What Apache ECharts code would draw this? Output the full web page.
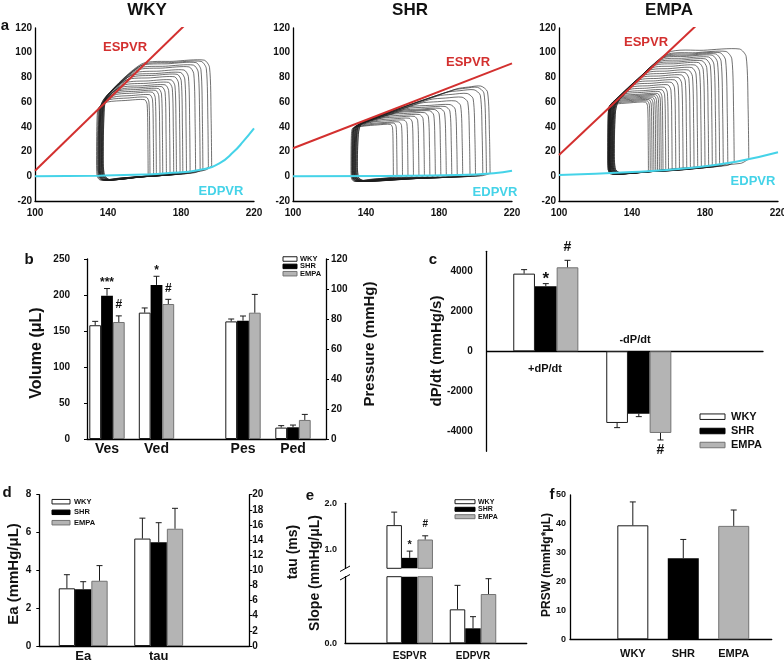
<!DOCTYPE html>
<html>
<head>
<meta charset="utf-8">
<title>LV hemodynamics</title>
<script src="https://cdn.jsdelivr.net/npm/echarts@6/dist/echarts.min.js"></script>
<style>
  html, body { margin: 0; background: #fff; }
  #chart { width: 784px; height: 665px; }
</style>
</head>
<body>
<div id="chart"></div>
<script>
const FONT = '"Liberation Sans", Arial, sans-serif'
const INK = '#111'

const groups = ['WKY', 'SHR', 'EMPA']
const groupFill = ['#ffffff', '#000000', '#b4b4b4']
const groupLine = ['#1a1a1a', '#000000', '#737373']

// a: pressure-volume loops (uL / mmHg)
const pvTitles = ['WKY', 'SHR', 'EMPA']
const pvVolTicks = [100, 140, 180, 220]
const wkyEspvr = [[100, 4.5], [181.6, 121.6]]
const shrEspvr = [[100, 22.7], [220, 91.4]]
const empaEspvr = [[100, 17.2], [174.9, 121.6]]
const wkyEdpvr = [[100, 0], [135, 0.5], [160, 1.4], [172, 2.4], [190, 5.1], [201, 10.5], [209, 20], [214, 28], [220, 38.8]]
const shrEdpvr = [[100, 0], [150, 0.3], [190, 1], [210, 2.5], [220, 4.5]]
const empaEdpvr = [[100, 1], [140, 3.5], [170, 6.5], [197, 11.8], [220, 19.4]]
// each loop: end-diastolic volume, peak pressure, end-systolic volume, end-systolic pressure
const wkyEdv = [196.8, 195, 192, 190.5, 188, 185, 183, 181, 179.5, 177.5, 176, 174, 172, 170, 168.5, 166.5, 165, 163, 162]
const wkyPmax = [94, 93, 92, 90, 88.5, 86, 84, 82.5, 80.5, 78, 76, 74, 72.5, 71, 69.5, 68, 66, 64, 62]
const wkyEsv = [138, 138, 137.5, 137, 137.5, 137, 136.5, 137, 136, 136.5, 136, 135.5, 136, 135.5, 135, 135.5, 135, 134.5, 134]
const wkyPes = [64, 63, 63, 62, 62, 61, 61, 60, 60, 59, 58, 58, 57, 57, 56, 56, 55, 55, 54]
const shrEdv = [208, 206, 204, 200, 197, 193, 190, 187, 184, 181, 178, 175, 172, 169, 166, 163, 160, 157, 155]
const shrPmax = [73, 72, 70, 67, 64, 61, 58, 56.5, 55, 54, 53, 51.5, 50, 48.5, 47, 45.5, 44, 43, 42]
const shrEsv = [136, 136, 135.5, 135, 135, 135, 134.5, 134.5, 134, 134, 134, 133.5, 133.5, 133, 133, 133, 132.5, 132.5, 132]
const shrPes = [42, 42, 42, 41.5, 41, 41, 41, 40.5, 40.5, 40, 40, 40, 39.5, 39.5, 39, 39, 38.5, 38, 38]
const empaEdv = [204, 196, 192.5, 190, 188, 186, 184, 182, 180, 178, 176, 174, 172, 170, 168, 166, 164, 162, 160, 158.5, 157, 156, 155, 154, 153, 152, 151, 150, 149]
const empaPmax = [103, 101, 100, 99, 98, 96.5, 95, 93.5, 92, 90, 88, 86, 84, 82, 80, 78, 76, 74, 72, 70, 68.5, 67, 66, 65, 64, 63, 62, 61, 60]
const empaEsv = [131, 131, 130.5, 130.5, 130, 130, 130, 129.5, 129.5, 129.5, 129, 129, 129, 128.5, 128.5, 128.5, 128, 128, 128, 128, 128, 127.5, 127.5, 127.5, 127.5, 127.5, 127, 127, 127]
const empaPes = [60, 60, 59.5, 59.5, 59, 59, 59, 58.5, 58.5, 58.5, 58, 58, 58, 58, 57.5, 57.5, 57.5, 57, 57, 57, 57, 57, 56.5, 56.5, 56.5, 56, 56, 56, 55.5]
const pvMinP = [-3, -4, 2]
const pvShoulder = [1.45, 0.58, 1.5]

// b: volumes (uL) and pressures (mmHg), rows = groups
const volCats = ['Ves', 'Ved']
const volMean = [[158, 175.5], [199, 214], [162.5, 187.5]]
const volErr = [[5.4, 6.5], [10, 12], [8.5, 6.5]]
const volMarks = [['', ''], ['***', '*'], ['#', '#']]
const presCats = ['Pes', 'Ped']
const presMean = [[78.4, 7.6], [78.9, 7.8], [84.2, 12.7]]
const presErr = [[1.6, 1.3], [3.1, 1.5], [12.2, 3.7]]

// c: dP/dt (mmHg/s)
const dpCats = ['+dP/dt', '-dP/dt']
const dpMean = [[3883, -3583], [3250, -3117], [4200, -4083]]
const dpErr = [[200, 234], [133, 150], [350, 350]]
const dpMarks = [['', ''], ['*', ''], ['#', '#']]

// d: Ea (mmHg/uL) and tau (ms)
const eaMean = [3.05, 3.0, 3.45]
const eaErr = [0.72, 0.4, 0.8]
const tauMean = [14.2, 13.7, 15.5]
const tauErr = [2.7, 2.6, 2.7]

// e: ESPVR / EDPVR slopes (mmHg/uL)
const slopeCats = ['ESPVR', 'EDPVR']
const slopeMean = [[1.53, 0.051], [0.825, 0.0225], [1.22, 0.074]]
const slopeErr = [[0.28, 0.036], [0.145, 0.0175], [0.08, 0.023]]
const slopeMarks = [['', ''], ['*', ''], ['#', '']]

// f: PRSW (mmHg*uL)
const prswMean = [39.5, 28.1, 39.3]
const prswErr = [8.1, 6.5, 5.5]

const grids = []
const xAxes = []
const yAxes = []
const series = []
const graphics = []

function addGrid (box) {
  grids.push(Object.assign({ outerBoundsMode: 'none', containLabel: false }, box))
  return grids.length - 1
}
function addX (opt) { xAxes.push(opt); return xAxes.length - 1 }
function addY (opt) { yAxes.push(opt); return yAxes.length - 1 }

const axisLine = { show: true, onZero: false, lineStyle: { color: '#000', width: 1.3 } }
function tickLabel (size, margin, extra) {
  return Object.assign({ color: INK, fontFamily: FONT, fontWeight: 'bold', fontSize: size, margin: margin }, extra)
}
function frameX (g, onZero) {
  return {
    type: 'value', gridIndex: g, min: 0, max: 1,
    axisLine: { show: true, onZero: !!onZero, lineStyle: { color: '#000', width: 1.3 } },
    axisTick: { show: false }, axisLabel: { show: false }, splitLine: { show: false }
  }
}
function valueY (g, min, max, interval, label, extra) {
  return Object.assign({
    type: 'value', gridIndex: g, min: min, max: max, interval: interval,
    axisLine: axisLine,
    axisTick: { show: true, length: 3, lineStyle: { color: '#000' } },
    splitLine: { show: false },
    axisLabel: label
  }, extra)
}
function hiddenY (g, min, max) {
  return { type: 'value', gridIndex: g, min: min, max: max, show: false }
}
function catX (g, cats, label) {
  return {
    type: 'category', gridIndex: g, data: cats,
    axisLine: { show: false }, axisTick: { show: false }, splitLine: { show: false },
    axisLabel: label ? Object.assign({ interval: 0 }, label) : { show: false }
  }
}
function bar (xi, yi, k, data, width) {
  return {
    type: 'bar', name: groups[k], xAxisIndex: xi, yAxisIndex: yi, data: data,
    barWidth: width, barGap: '0%', silent: true, z: 2,
    itemStyle: { color: groupFill[k], borderColor: groupLine[k], borderWidth: k === 1 ? 0 : 1 }
  }
}
function errorBars (xi, yi, means, errs, marks, slot, barW, markStyle, keep) {
  const items = []
  const texts = []
  means.forEach((m, c) => {
    if (keep && !keep.includes(c)) return
    items.push([c, m, errs[c]])
    texts.push(marks ? marks[c] : '')
  })
  return {
    type: 'custom', xAxisIndex: xi, yAxisIndex: yi, silent: true, z: 3, data: items,
    renderItem (params, api) {
      const m = api.value(1)
      const dir = m < 0 ? -1 : 1
      const base = api.coord([api.value(0), m])
      const tip = api.coord([api.value(0), m + dir * api.value(2)])
      const x = base[0] + slot * barW
      const st = { stroke: '#1a1a1a', lineWidth: 1 }
      const kids = [
        { type: 'line', shape: { x1: x, y1: base[1], x2: x, y2: tip[1] }, style: st },
        { type: 'line', shape: { x1: x - 3, y1: tip[1], x2: x + 3, y2: tip[1] }, style: st }
      ]
      const t = texts[params.dataIndex]
      if (t) {
        const ms = markStyle[t + (dir < 0 ? 'down' : '')] || markStyle[t]
        kids.push({
          type: 'text', x: x, y: tip[1] - dir * ms[1],
          style: { text: t, fill: INK, fontSize: ms[0], fontWeight: 'bold', fontFamily: FONT, align: 'center', verticalAlign: 'middle' }
        })
      }
      return { type: 'group', children: kids }
    }
  }
}
function label (text, x, y, size, color, align, rotation) {
  return {
    type: 'text', x: x, y: y, rotation: rotation || 0, silent: true,
    style: { text: text, fill: color || INK, fontSize: size, fontWeight: 'bold', fontFamily: FONT, align: align || 'center', verticalAlign: 'middle' }
  }
}
function legendBox (x, ys, w, h, textX, size) {
  groups.forEach((name, k) => {
    graphics.push({ type: 'rect', silent: true, shape: { x: x, y: ys[k] - h / 2, width: w, height: h }, style: { fill: groupFill[k], stroke: groupLine[k], lineWidth: 1 } })
    graphics.push(label(name, textX, ys[k], size, INK, 'left'))
  })
}
function interp (pts, v) {
  for (let i = 1; i < pts.length; i++) {
    if (v <= pts[i][0]) {
      const a = pts[i - 1]
      const b = pts[i]
      return a[1] + (b[1] - a[1]) * (v - a[0]) / (b[0] - a[0])
    }
  }
  return pts[pts.length - 1][1]
}
// outline of one loop, going counter-clockwise from end-diastole
function loopPoints (edv, pmax, esv, pes, pmin, ped, shoulder) {
  const w = edv - esv
  const h = pmax - pmin
  const cx = Math.min(esv + (pmax - pes) / shoulder, edv - 0.2 * w)
  return [
    [edv, ped],
    [edv - 0.005 * w, ped + 0.45 * (pmax - ped)],
    [edv - 0.02 * w, pmax - 0.06 * h],
    [edv - 0.07 * w, pmax],
    [(edv - 0.07 * w + cx) / 2, pmax - 0.01 * h],
    [cx, pmax - 0.03 * h],
    [esv + 0.03 * w, pes + 0.02 * h],
    [esv, pes - 0.12 * (pes - pmin)],
    [esv - 0.01 * w, pmin + 0.35 * (pes - pmin)],
    [esv, pmin + 0.06 * (pes - pmin)],
    [esv + 0.06 * w, pmin],
    [esv + 0.45 * w, pmin + 0.35 * (ped - pmin)],
    [edv - 0.06 * w, ped - 0.3 * (ped - pmin)],
    [edv, ped]
  ]
}

// ---- panel a ----
const pvPanels = [
  { espvr: wkyEspvr, edpvr: wkyEdpvr, edv: wkyEdv, pmax: wkyPmax, esv: wkyEsv, pes: wkyPes },
  { espvr: shrEspvr, edpvr: shrEdpvr, edv: shrEdv, pmax: shrPmax, esv: shrEsv, pes: shrPes },
  { espvr: empaEspvr, edpvr: empaEdpvr, edv: empaEdv, pmax: empaPmax, esv: empaEsv, pes: empaPes }
]
const pvLeft = [35, 293, 559]
const titleX = [147, 410, 669]
const espvrLabel = [[125, 47], [468, 62], [646, 42]]
const edpvrLabel = [[221, 191], [495, 192], [753, 181]]
pvPanels.forEach((p, i) => {
  const g = addGrid({ left: pvLeft[i], top: 28, width: 219, height: 173 })
  const xi = addX({
    type: 'value', gridIndex: g, min: 100, max: 220, interval: 20,
    axisLine: axisLine, axisTick: { show: false }, splitLine: { show: false },
    axisLabel: tickLabel(10, 7, { formatter: v => pvVolTicks.includes(v) ? String(v) : '' })
  })
  const yi = addY({
    type: 'value', gridIndex: g, min: -20, max: 120, interval: 20,
    axisLine: axisLine, axisTick: { show: false }, splitLine: { show: false },
    axisLabel: tickLabel(10, 3)
  })
  series.push({
    type: 'custom', xAxisIndex: xi, yAxisIndex: yi, silent: true, z: 2,
    data: p.edv.map((v, k) => [v, p.pmax[k], p.esv[k], p.pes[k]]),
    renderItem (params, api) {
      const edv = api.value(0)
      const pts = loopPoints(edv, api.value(1), api.value(2), api.value(3), pvMinP[i], interp(p.edpvr, edv), pvShoulder[i])
      return {
        type: 'polyline',
        shape: { points: pts.map(q => api.coord(q)), smooth: 0.25 },
        style: { stroke: '#1c1c1c', lineWidth: 0.7, fill: null, opacity: 0.9 }
      }
    }
  })
  series.push({
    type: 'line', xAxisIndex: xi, yAxisIndex: yi, data: p.espvr, symbol: 'none', silent: true, z: 4,
    lineStyle: { color: '#d3302f', width: 2 }
  })
  series.push({
    type: 'line', xAxisIndex: xi, yAxisIndex: yi, data: p.edpvr, symbol: 'none', smooth: true, silent: true, z: 4,
    lineStyle: { color: '#45d3e8', width: 2 }
  })
  graphics.push(label(pvTitles[i], titleX[i], 10, 17))
  graphics.push(label('ESPVR', espvrLabel[i][0], espvrLabel[i][1], 13, '#d3302f'))
  graphics.push(label('EDPVR', edpvrLabel[i][0], edpvrLabel[i][1], 13, '#45d3e8'))
})
graphics.push(label('a', 5, 26, 15))

// ---- panel b ----
const gB = addGrid({ left: 87, top: 259, width: 239, height: 180 })
addX(frameX(gB))
addY(valueY(gB, 0, 250, 50, tickLabel(10, 17)))
addY(valueY(gB, 0, 120, 20, tickLabel(10, 5), { position: 'right' }))
const bMarks = { '***': [12, 6], '*': [12, 6], '#': [12, 11] }
const gBv = addGrid({ left: 82.25, top: 259, width: 99, height: 180 })
const xBv = addX(catX(gBv, volCats, tickLabel(14, 3)))
const yBv = addY(hiddenY(gBv, 0, 250))
const gBp = addGrid({ left: 218, top: 259, width: 100, height: 180 })
const xBp = addX(catX(gBp, presCats, tickLabel(14, 3)))
const yBp = addY(hiddenY(gBp, 0, 120))
groups.forEach((name, k) => {
  series.push(bar(xBv, yBv, k, volMean[k], 11.8))
  series.push(errorBars(xBv, yBv, volMean[k], volErr[k], volMarks[k], k - 1, 11.8, bMarks))
  series.push(bar(xBp, yBp, k, presMean[k], 11.8))
  series.push(errorBars(xBp, yBp, presMean[k], presErr[k], null, k - 1, 11.8, bMarks))
})
graphics.push(label('b', 29, 260, 15))
graphics.push(label('Volume (\u03bcL)', 37, 353, 16, INK, 'center', Math.PI / 2))
graphics.push(label('Pressure (mmHg)', 370, 344, 15, INK, 'center', Math.PI / 2))
legendBox(283, [259, 266.4, 273.7], 14, 4.5, 300, 7.5)

// ---- panel c ----
const gC = addGrid({ left: 486.7, top: 251.3, width: 276.3, height: 200 })
addX(frameX(gC, true))
addY(valueY(gC, -5000, 5000, 1000, tickLabel(10, 14, {
  formatter: v => (v % 2000 === 0 && Math.abs(v) < 5000) ? String(v) : ''
}), { axisTick: { show: false } }))
const gCb = addGrid({ left: 499.3, top: 251.3, width: 186, height: 200 })
const xCb = addX(catX(gCb, dpCats))
const yCb = addY(hiddenY(gCb, -5000, 5000))
const cMarks = { '*': [17, 4], '#': [14, 13], '#down': [14, 10] }
groups.forEach((name, k) => {
  series.push(bar(xCb, yCb, k, dpMean[k], 21.7))
  series.push(errorBars(xCb, yCb, dpMean[k], dpErr[k], dpMarks[k], k - 1, 21.7, cMarks))
})
graphics.push(label('c', 433, 260, 15))
graphics.push(label('dP/dt (mmHg/s)', 437, 351, 15, INK, 'center', Math.PI / 2))
graphics.push(label(dpCats[0], 545, 369, 11))
graphics.push(label(dpCats[1], 635, 340, 11))
legendBox(700, [416.7, 431, 445], 25, 5.5, 731, 11)

// ---- panel d ----
const gD = addGrid({ left: 39.3, top: 494.7, width: 210, height: 151.3 })
addX(frameX(gD))
addY(valueY(gD, 0, 8, 2, tickLabel(10, 8)))
addY(valueY(gD, 0, 20, 2, tickLabel(10, 3), { position: 'right' }))
const gDa = addGrid({ left: 45.45, top: 494.7, width: 75.5, height: 151.3 })
const xDa = addX(catX(gDa, ['Ea'], tickLabel(13, 4)))
const yDa = addY(hiddenY(gDa, 0, 8))
const gDt = addGrid({ left: 120.95, top: 494.7, width: 75.5, height: 151.3 })
const xDt = addX(catX(gDt, ['tau'], tickLabel(13, 4)))
const yDt = addY(hiddenY(gDt, 0, 20))
groups.forEach((name, k) => {
  series.push(bar(xDa, yDa, k, [eaMean[k]], 16.3))
  series.push(errorBars(xDa, yDa, [eaMean[k]], [eaErr[k]], null, k - 1, 16.3, {}))
  series.push(bar(xDt, yDt, k, [tauMean[k]], 16.3))
  series.push(errorBars(xDt, yDt, [tauMean[k]], [tauErr[k]], null, k - 1, 16.3, {}))
})
graphics.push(label('d', 7, 493, 15))
graphics.push(label('Ea (mmHg/\u03bcL)', 14, 574, 15, INK, 'center', Math.PI / 2))
graphics.push(label('tau (ms)', 293, 552, 14, INK, 'center', Math.PI / 2))
legendBox(52, [501.7, 512.3, 522.7], 18, 4.5, 74, 7.5)

// ---- panel e (broken axis) ----
const gEu = addGrid({ left: 345, top: 503.3, width: 181.7, height: 65 })
addX(Object.assign(frameX(gEu), { show: false }))
addY(valueY(gEu, 0.6, 2.0, 0.2, tickLabel(9, 8, {
  formatter: v => Math.abs(v - Math.round(v)) < 1e-6 ? v.toFixed(1) : ''
}), { axisTick: { show: false } }))
const gEl = addGrid({ left: 345, top: 576.7, width: 181.7, height: 66.6 })
addX(frameX(gEl))
addY(valueY(gEl, 0, 0.1, 0.1, tickLabel(9, 8, { formatter: v => v === 0 ? '0.0' : '' }), { axisTick: { show: false } }))
const gEub = addGrid({ left: 378.05, top: 503.3, width: 126.6, height: 65 })
const xEub = addX(catX(gEub, slopeCats))
const yEub = addY(hiddenY(gEub, 0.6, 2.0))
const gElb = addGrid({ left: 378.05, top: 576.7, width: 126.6, height: 66.6 })
const xElb = addX(catX(gElb, slopeCats, tickLabel(10, 8)))
const yElb = addY(hiddenY(gElb, 0, 0.1))
const eMarks = { '*': [11, 6.5], '#': [10, 11.5] }
groups.forEach((name, k) => {
  series.push(bar(xEub, yEub, k, [slopeMean[k][0], '-'], 15.5))
  series.push(errorBars(xEub, yEub, slopeMean[k], slopeErr[k], slopeMarks[k], k - 1, 15.5, eMarks, [0]))
  series.push(bar(xElb, yElb, k, slopeMean[k], 15.5))
  series.push(errorBars(xElb, yElb, slopeMean[k], slopeErr[k], null, k - 1, 15.5, eMarks, [1]))
})
graphics.push({ type: 'line', silent: true, shape: { x1: 340, y1: 571.5, x2: 350, y2: 566 }, style: { stroke: '#000', lineWidth: 1 } })
graphics.push({ type: 'line', silent: true, shape: { x1: 340, y1: 580, x2: 350, y2: 574.5 }, style: { stroke: '#000', lineWidth: 1 } })
graphics.push(label('e', 310, 496, 15))
graphics.push(label('Slope (mmHg/\u03bcL)', 315, 573, 14, INK, 'center', Math.PI / 2))
legendBox(455, [501.7, 509.3, 516.7], 20, 4, 478, 7)

// ---- panel f ----
const gF = addGrid({ left: 570, top: 495, width: 201.7, height: 144.3 })
addX(frameX(gF))
addY(valueY(gF, 0, 50, 10, tickLabel(9, 4), { axisTick: { show: false } }))
const gFb = addGrid({ left: 607.6, top: 495, width: 151.35, height: 144.3 })
const xFb = addX(catX(gFb, groups, tickLabel(11, 9)))
const yFb = addY(hiddenY(gFb, 0, 50))
series.push({
  type: 'bar', xAxisIndex: xFb, yAxisIndex: yFb, barWidth: 31, silent: true, z: 2,
  data: prswMean.map((v, k) => ({
    value: v,
    itemStyle: { color: groupFill[k], borderColor: groupLine[k], borderWidth: k === 1 ? 0 : 1 }
  }))
})
series.push(errorBars(xFb, yFb, prswMean, prswErr, null, 0, 31, {}))
graphics.push(label('f', 552, 495, 15))
graphics.push(label('PRSW (mmHg*\u03bcL)', 547, 565, 12, INK, 'center', Math.PI / 2))

const chart = echarts.init(document.getElementById('chart'))
chart.setOption({
  animation: false,
  backgroundColor: '#ffffff',
  grid: grids,
  xAxis: xAxes,
  yAxis: yAxes,
  series: series,
  graphic: { elements: graphics }
})
</script>
</body>
</html>
